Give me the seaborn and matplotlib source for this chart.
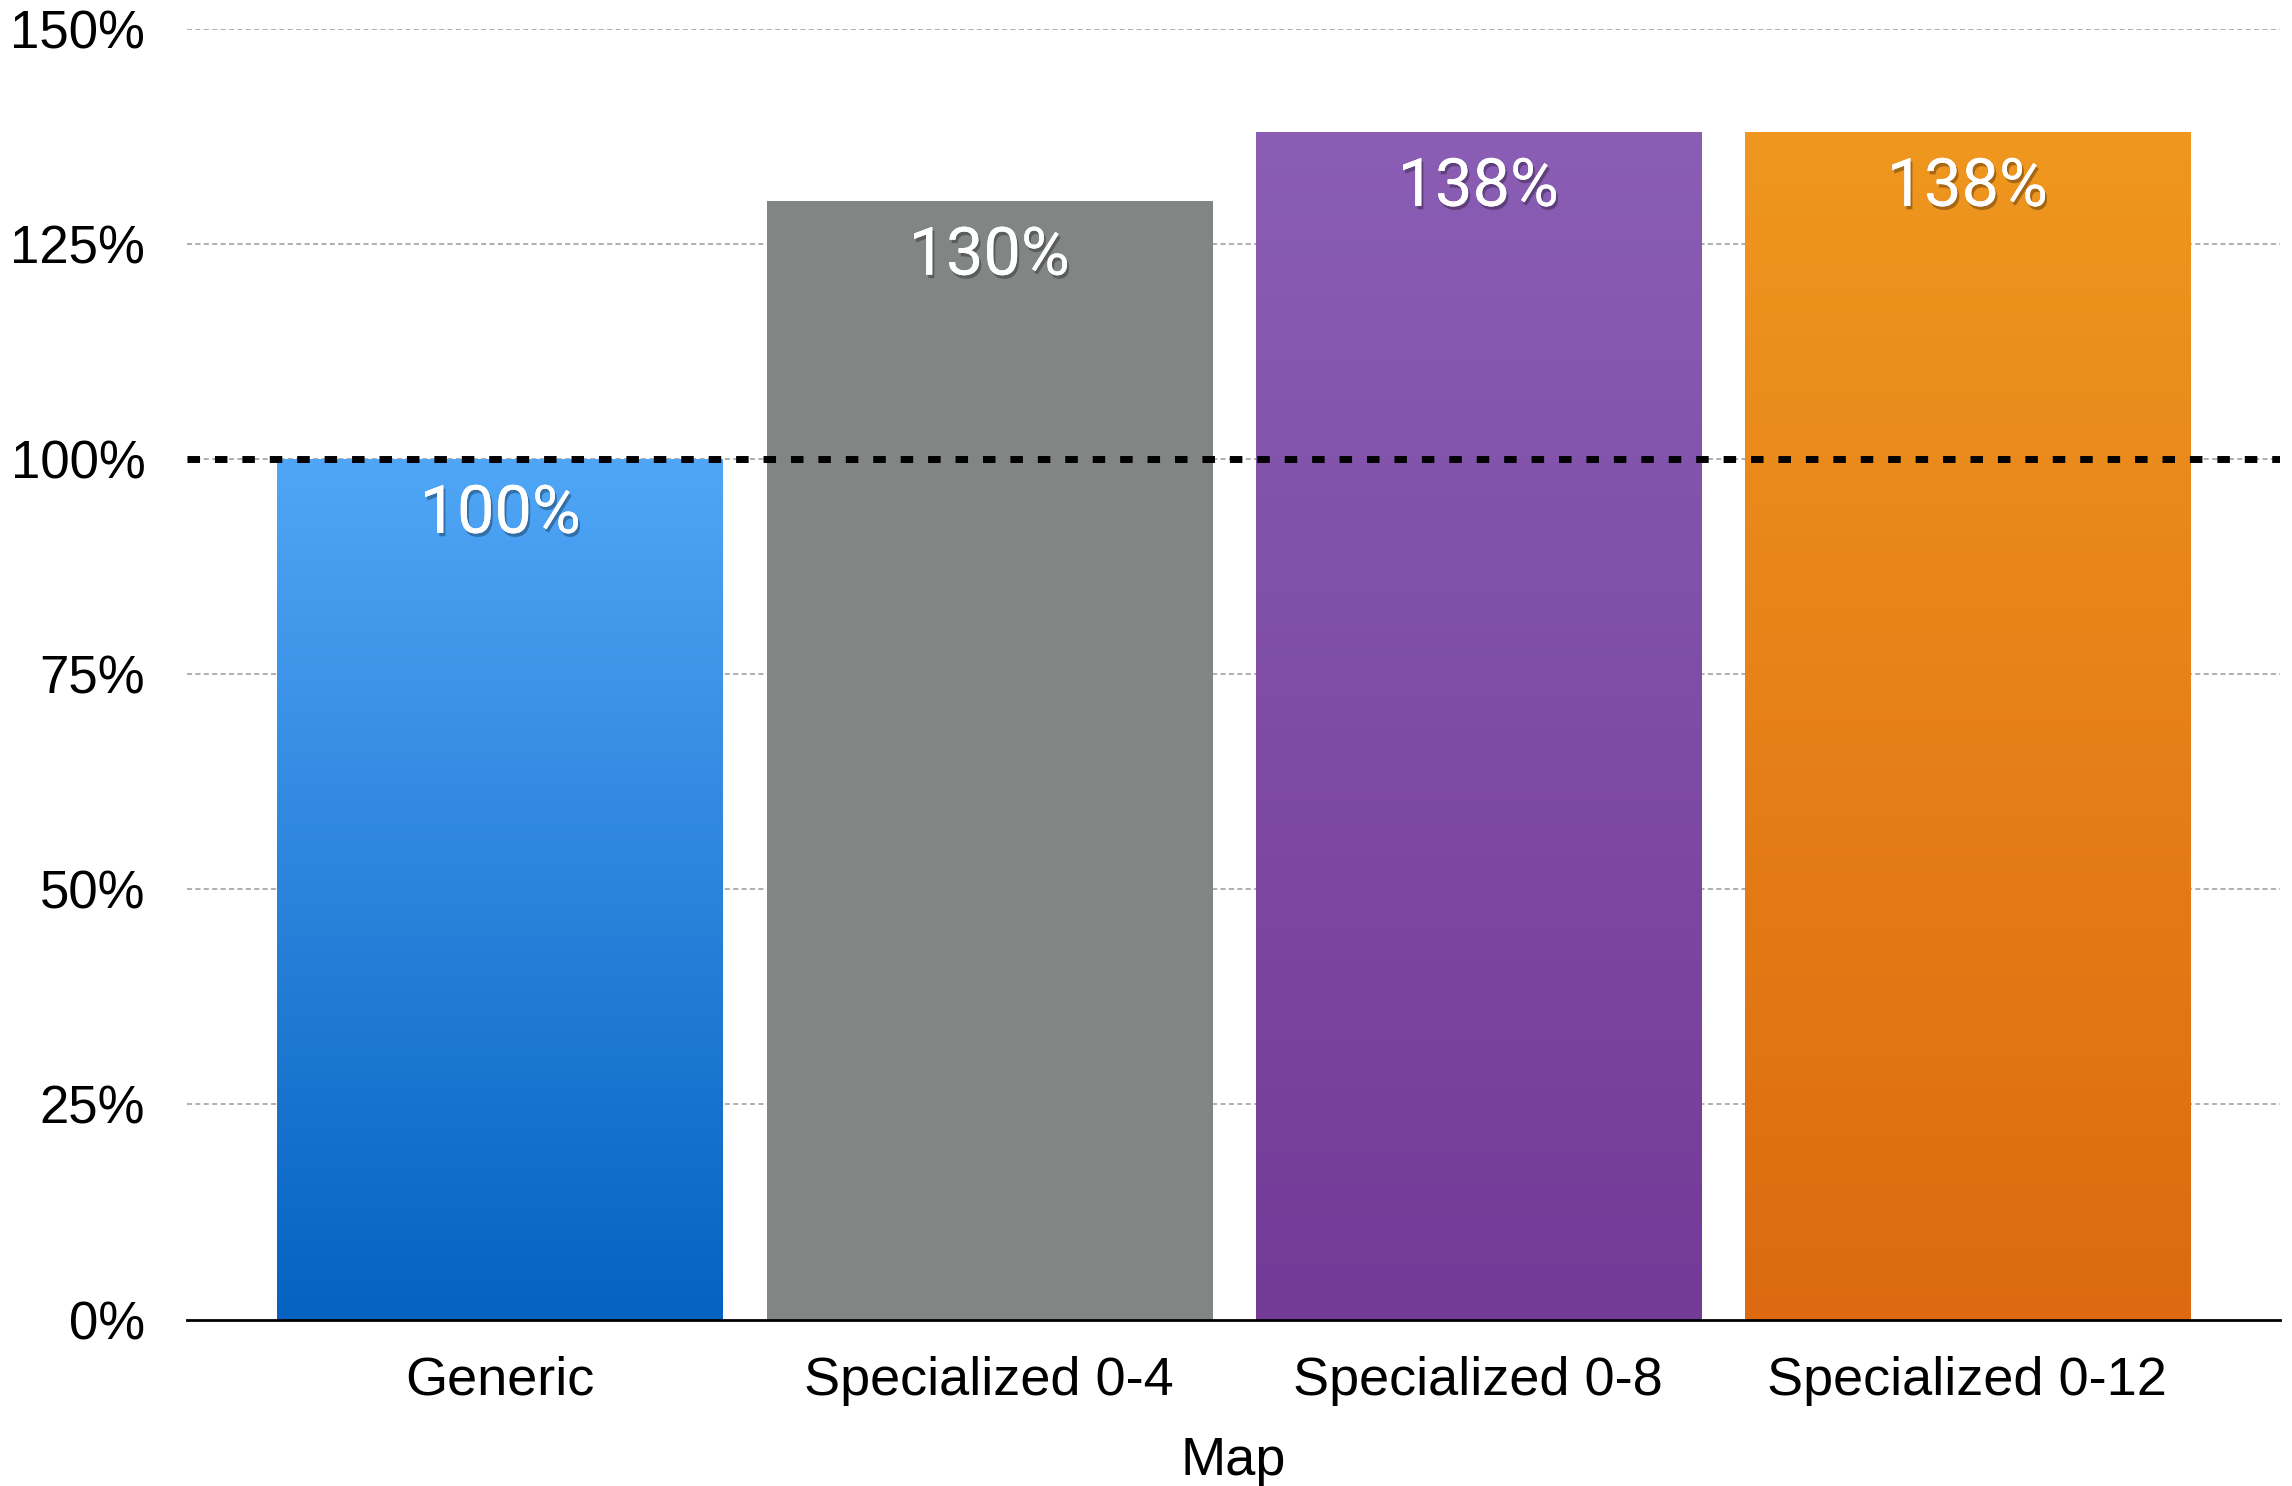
import numpy as np
import pandas as pd
import matplotlib
matplotlib.use("Agg")
import matplotlib.pyplot as plt
import matplotlib.patheffects as pe
from matplotlib.colors import LinearSegmentedColormap
import seaborn as sns

# Data
maps = ["Generic", "Specialized 0-4", "Specialized 0-8", "Specialized 0-12"]
relative_perf = [100, 130, 138, 138]
value_labels = ["100%", "130%", "138%", "138%"]
y_ticks = [0, 25, 50, 75, 100, 125, 150]
y_tick_labels = ["0%", "25%", "50%", "75%", "100%", "125%", "150%"]
baseline = 100

# Top and bottom colours of each bar's vertical gradient
grad_top = ["#50a6f6", "#818684", "#8a5eb4", "#ef971f"]
grad_bottom = ["#0562c1", "#818684", "#733a96", "#dd6a10"]

sns.set_theme(style="white")
plt.rcParams["font.family"] = ["Liberation Sans", "DejaVu Sans"]

df = pd.DataFrame({"Map": maps, "value": relative_perf})

fig = plt.figure(figsize=(22.92, 14.86), dpi=100)
ax = fig.add_axes([0.0816, 0.112, 0.9132, 0.8685])

sns.barplot(data=df, x="Map", y="value", hue="Map", palette=grad_bottom,
            width=0.91, legend=False, ax=ax, zorder=2, saturation=1)

# gradient fill clipped to each bar
for patch, top, bot in zip(ax.patches, grad_top, grad_bottom):
    x0, y0 = patch.get_x(), patch.get_y()
    w, h = patch.get_width(), patch.get_height()
    cmap = LinearSegmentedColormap.from_list("g", [bot, top])
    grad = np.linspace(0, 1, 256).reshape(-1, 1)
    im = ax.imshow(grad, cmap=cmap, aspect="auto", origin="lower",
                   extent=[x0, x0 + w, y0, y0 + h], zorder=2.1)
    im.set_clip_path(patch)
    patch.set_edgecolor("none")
ax.set_xlim(-0.64, 3.64)
ax.set_ylim(0, 150)

# grid lines
for yv in y_ticks:
    if yv == 0:
        continue
    ax.axhline(yv, color="#9a9a9a", lw=1.1, dashes=(3.3, 2.2), zorder=1)

# baseline reference
ax.axhline(baseline, color="black", lw=5, dashes=(1.8, 2.15), zorder=3)

# value labels
shadow = [pe.withSimplePatchShadow(offset=(1.5, -2.5), shadow_rgbFace="black",
                                   alpha=0.3), pe.Normal()]
for i, (v, lab) in enumerate(zip(relative_perf, value_labels)):
    ax.annotate(lab, xy=(i, v), xytext=(0, -17), textcoords="offset points",
                ha="center", va="top", color="white", fontsize=48,
                family=["Roboto", "DejaVu Sans"], fontweight="normal",
                zorder=4, path_effects=shadow)

ax.set_yticks(y_ticks)
ax.set_yticklabels(y_tick_labels)
ax.tick_params(axis="y", length=0, pad=30, labelsize=38, labelcolor="black")
ax.tick_params(axis="x", length=0, pad=26, labelsize=39, labelcolor="black")
ax.set_xlabel("Map", fontsize=39, labelpad=22, color="black")
ax.set_ylabel("")

for s in ["top", "right", "left"]:
    ax.spines[s].set_visible(False)
ax.spines["bottom"].set_color("black")
ax.spines["bottom"].set_linewidth(2)
ax.spines["bottom"].set_zorder(5)

fig.savefig("out.png", dpi=100, facecolor="white")
